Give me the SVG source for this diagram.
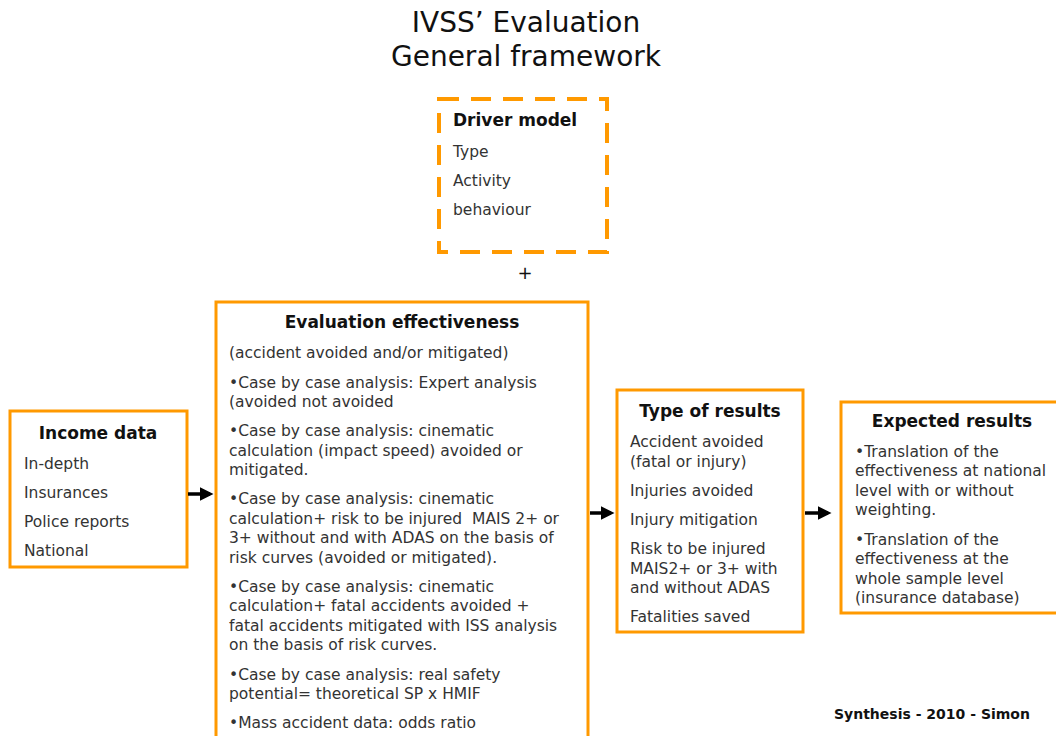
<svg xmlns="http://www.w3.org/2000/svg" width="1056" height="736" viewBox="0 0 1056 736">
<style>
.box{fill:#fff;stroke:#FF9900;stroke-width:3}
.dash{fill:#fff;stroke:#FF9900;stroke-width:4;stroke-dasharray:20 12}
text{font-family:"DejaVu Sans","Liberation Sans",sans-serif}
.h{font-weight:bold;font-size:17px;fill:#111;text-anchor:middle}
.t{font-size:15.5px;fill:#333}
.title{font-size:28px;fill:#111;text-anchor:middle}
.arr{stroke:#000;stroke-width:3.5;fill:none}
</style>
<defs>
<marker id="ah" markerWidth="4" markerHeight="4" refX="3" refY="2" orient="auto" markerUnits="strokeWidth">
<path d="M0,0 L4,2 L0,4 Z" fill="#000"/>
</marker>
</defs>
<rect width="1056" height="736" fill="#fff"/>
<g id="title">
<text class="title" x="526" y="32">IVSS’ Evaluation</text>
<text class="title" x="526" y="66">General framework</text>
</g>
<g id="driver-model">
<rect class="dash" x="439" y="99" width="168" height="153"/>
<text class="h" x="453" y="126" style="text-anchor:start">Driver model</text>
<text class="t" x="453" y="157">Type</text>
<text class="t" x="453" y="186">Activity</text>
<text class="t" x="453" y="215">behaviour</text>
</g>
<g id="plus"><text x="525" y="279" style="font-size:18px;fill:#111;text-anchor:middle">+</text></g>
<g id="income-data">
<rect class="box" x="10" y="411" width="177" height="156"/>
<text class="h" x="98" y="439">Income data</text>
<text class="t" x="24" y="469">In-depth</text>
<text class="t" x="24" y="498">Insurances</text>
<text class="t" x="24" y="527">Police reports</text>
<text class="t" x="24" y="556">National</text>
</g>
<g id="evaluation">
<rect class="box" x="216" y="302" width="372" height="440"/>
<text class="h" x="402" y="328">Evaluation effectiveness</text>
<text class="t" x="229" y="358">(accident avoided and/or mitigated)</text>
<text class="t" x="229" y="388">•Case by case analysis: Expert analysis</text>
<text class="t" x="229" y="407">(avoided not avoided</text>
<text class="t" x="229" y="436">•Case by case analysis: cinematic</text>
<text class="t" x="229" y="456">calculation (impact speed) avoided or</text>
<text class="t" x="229" y="475">mitigated.</text>
<text class="t" x="229" y="504">•Case by case analysis: cinematic</text>
<text class="t" x="229" y="524" xml:space="preserve">calculation+ risk to be injured  MAIS 2+ or</text>
<text class="t" x="229" y="543">3+ without and with ADAS on the basis of</text>
<text class="t" x="229" y="563">risk curves (avoided or mitigated).</text>
<text class="t" x="229" y="592">•Case by case analysis: cinematic</text>
<text class="t" x="229" y="611">calculation+ fatal accidents avoided +</text>
<text class="t" x="229" y="631">fatal accidents mitigated with ISS analysis</text>
<text class="t" x="229" y="650">on the basis of risk curves.</text>
<text class="t" x="229" y="680">•Case by case analysis: real safety</text>
<text class="t" x="229" y="699">potential= theoretical SP x HMIF</text>
<text class="t" x="229" y="728">•Mass accident data: odds ratio</text>
</g>
<g id="type-of-results">
<rect class="box" x="617" y="390" width="186" height="242"/>
<text class="h" x="710" y="417">Type of results</text>
<text class="t" x="630" y="447">Accident avoided</text>
<text class="t" x="630" y="467">(fatal or injury)</text>
<text class="t" x="630" y="496">Injuries avoided</text>
<text class="t" x="630" y="525">Injury mitigation</text>
<text class="t" x="630" y="554">Risk to be injured</text>
<text class="t" x="630" y="574">MAIS2+ or 3+ with</text>
<text class="t" x="630" y="593">and without ADAS</text>
<text class="t" x="630" y="622">Fatalities saved</text>
</g>
<g id="expected-results">
<rect class="box" x="841" y="402" width="225" height="211"/>
<text class="h" x="952" y="427">Expected results</text>
<text class="t" x="855" y="457">•Translation of the</text>
<text class="t" x="855" y="476">effectiveness at national</text>
<text class="t" x="855" y="496">level with or without</text>
<text class="t" x="855" y="515">weighting.</text>
<text class="t" x="855" y="545">•Translation of the</text>
<text class="t" x="855" y="564">effectiveness at the</text>
<text class="t" x="855" y="584">whole sample level</text>
<text class="t" x="855" y="603">(insurance database)</text>
</g>
<g id="connectors">
<line class="arr" x1="188" y1="494" x2="210" y2="494" marker-end="url(#ah)"/>
<line class="arr" x1="590" y1="513" x2="611" y2="513" marker-end="url(#ah)"/>
<line class="arr" x1="805" y1="513" x2="828" y2="513" marker-end="url(#ah)"/>
</g>
<g id="footer"><text x="834" y="719" style="font-size:14px;font-weight:bold;fill:#111">Synthesis - 2010 - Simon</text></g>
</svg>
